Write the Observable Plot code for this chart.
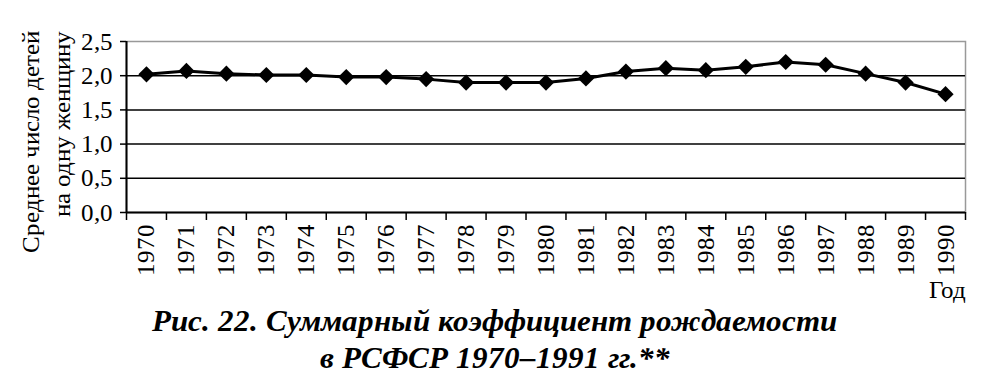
<!DOCTYPE html>
<html lang="en">
<head>
<meta charset="utf-8">
<script src="https://cdn.jsdelivr.net/npm/d3@7"></script>
<script src="https://cdn.jsdelivr.net/npm/@observablehq/plot@0.6"></script>
<style>
  @font-face { font-family: 'RefSerif'; src: local('Liberation Serif'), local('LiberationSerif'); font-weight: normal; font-style: normal; }
  @font-face { font-family: 'RefSerif'; src: local('Liberation Serif Bold Italic'), local('LiberationSerif-BoldItalic'); font-weight: bold; font-style: italic; }
</style>
</head>
<body style="margin:0;padding:0;background:#fff">
<div style="position:relative;width:989px;height:384px">
  <div id="chart"></div>
  <div id="caption" lang="ru" style="position:absolute;left:0;top:302px;width:989px;text-align:center;font-family:'RefSerif','Liberation Serif', serif;font-weight:bold;font-style:italic;font-size:31px;line-height:37px;color:#000">Рис. 22. Суммарный коэффициент рождаемости<br>в РСФСР 1970–1991 гг.**</div>
</div>
<script>
const years = [1970, 1971, 1972, 1973, 1974, 1975, 1976, 1977, 1978, 1979, 1980,
               1981, 1982, 1983, 1984, 1985, 1986, 1987, 1988, 1989, 1990];
const tfr = [2.02, 2.07, 2.03, 2.01, 2.01, 1.98, 1.98, 1.95, 1.90, 1.90, 1.90,
             1.96, 2.06, 2.11, 2.08, 2.13, 2.20, 2.16, 2.03, 1.90, 1.73];
const yTicks = [0, 0.5, 1, 1.5, 2, 2.5];
const yTickLabels = ["0,0", "0,5", "1,0", "1,5", "2,0", "2,5"];
const yTitle = ["Среднее число детей", "на одну женщину"];
const xTitle = "Год";

const data = years.map((year, i) => ({year, value: tfr[i]}));
const xDomain = [years[0] - 0.5, years[years.length - 1] + 0.5];
const boundaries = d3.range(xDomain[0], xDomain[1] + 0.01, 1);
const yMax = d3.max(yTicks);
const gridTicks = yTicks.filter(t => t > 0 && t < yMax);
const serif = "'RefSerif', 'Liberation Serif', serif";

const chart = Plot.plot({
  width: 989,
  height: 303,
  marginLeft: 126,
  marginRight: 24,
  marginTop: 41,
  marginBottom: 91,
  style: {fontFamily: serif, color: "#000", background: "#fff"},
  x: {domain: xDomain, axis: null},
  y: {domain: [0, yMax], axis: null},
  marks: [
    Plot.frame({stroke: "#999", strokeWidth: 1.5}),
    Plot.ruleY(gridTicks, {stroke: "#000", strokeWidth: 1.5}),
    Plot.ruleY([0], {stroke: "#000", strokeWidth: 2}),
    Plot.ruleX([xDomain[0]], {stroke: "#000", strokeWidth: 2}),
    Plot.axisY({
      ticks: yTicks,
      tickFormat: d => yTickLabels[yTicks.indexOf(d)],
      tickSize: 6, tickPadding: 8, fontSize: 25, fontFamily: serif, strokeWidth: 1.5, label: null
    }),
    Plot.axisX({
      ticks: boundaries, tickFormat: () => "", tickSize: 8, strokeWidth: 1.5, label: null
    }),
    Plot.axisX({
      ticks: years, tickFormat: d => String(d), tickSize: 0, tickPadding: 11,
      tickRotate: -90, textAnchor: "end", fontSize: 25, fontFamily: serif, label: null
    }),
    Plot.line(data, {x: "year", y: "value", stroke: "#000", strokeWidth: 3}),
    Plot.dot(data, {x: "year", y: "value", symbol: "diamond2", r: 7.3, fill: "#000", stroke: "none"}),
    Plot.text([yTitle[0]], {
      text: d => d, frameAnchor: "top-left", rotate: -90, textAnchor: "end",
      lineAnchor: "middle", dx: -96, dy: -11, fontSize: 25, fontFamily: serif
    }),
    Plot.text([yTitle[1]], {
      text: d => d, frameAnchor: "top-left", rotate: -90, textAnchor: "end",
      lineAnchor: "middle", dx: -65, dy: -11, fontSize: 25, fontFamily: serif
    }),
    Plot.text([xTitle], {
      text: d => d, frameAnchor: "bottom-right", textAnchor: "end",
      lineAnchor: "bottom", dy: 85, fontSize: 25, fontFamily: serif
    })
  ]
});
document.getElementById("chart").appendChild(chart);
</script>
</body>
</html>
